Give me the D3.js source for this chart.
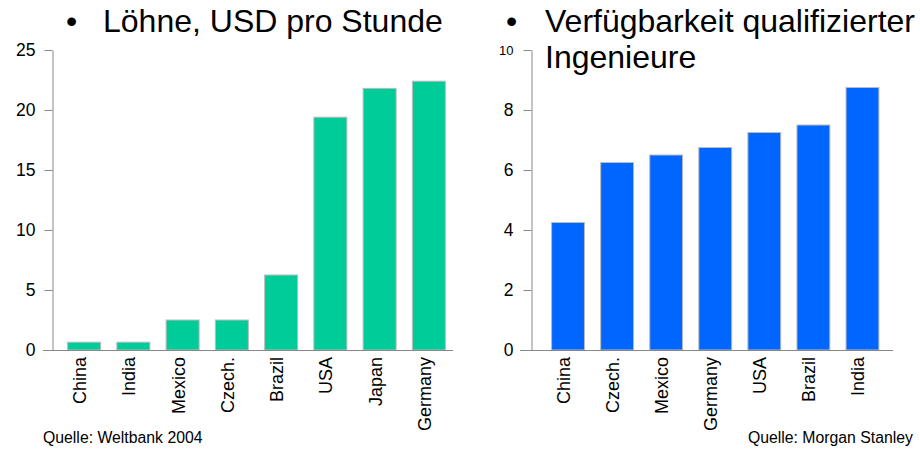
<!DOCTYPE html>
<html>
<head>
<meta charset="utf-8">
<script src="https://cdn.jsdelivr.net/npm/d3@7"></script>
<style>
  body { margin: 0; background: #fff; }
  text { font-family: Arial, "Liberation Sans", sans-serif; }
</style>
</head>
<body>
<div id="my_dataviz"></div>
<script>
// data
var lohnCountries = ["China", "India", "Mexico", "Czech.", "Brazil", "USA", "Japan", "Germany"];
var lohnValues = [0.65, 0.65, 2.5, 2.5, 6.25, 19.4, 21.8, 22.4];
var lohnTicks = [0, 5, 10, 15, 20, 25];

var ingCountries = ["China", "Czech.", "Mexico", "Germany", "USA", "Brazil", "India"];
var ingValues = [4.25, 6.25, 6.5, 6.75, 7.25, 7.5, 8.75];
var ingTicks = [0, 2, 4, 6, 8, 10];

var width = 920, height = 450;

var svg = d3.select("#my_dataviz")
  .append("svg")
  .attr("width", width)
  .attr("height", height);

// one bar chart panel
function drawChart(cfg) {
  var g = svg.append("g");

  var data = cfg.cats.map(function(c, i) { return {name: c, value: cfg.values[i]}; });

  var x = d3.scaleBand()
    .domain(cfg.cats)
    .range(cfg.xRange)
    .paddingInner(0.33)
    .paddingOuter(0.165);

  var y = d3.scaleLinear()
    .domain([0, d3.max(cfg.ticks)])
    .range([350, 50]);

  // y axis
  var yAxis = g.append("g")
    .attr("transform", "translate(" + cfg.axisX + ",0)")
    .call(d3.axisLeft(y).tickValues(cfg.ticks).tickSize(8).tickSizeOuter(0).tickPadding(cfg.tickPad));
  yAxis.select(".domain").attr("stroke", "#888");
  yAxis.selectAll(".tick line").attr("stroke", "#888");
  yAxis.selectAll(".tick text")
    .attr("fill", "#000")
    .style("font-size", function(d) { return (cfg.smallTop && d === d3.max(cfg.ticks)) ? "13px" : "17.5px"; });

  // bars
  g.selectAll("rect")
    .data(data)
    .enter()
    .append("rect")
    .attr("x", function(d) { return x(d.name); })
    .attr("y", function(d) { return y(d.value); })
    .attr("width", x.bandwidth())
    .attr("height", function(d) { return y(0) - y(d.value); })
    .attr("fill", cfg.color)
    .attr("stroke", "#bbb")
    .attr("stroke-width", 1);

  // baseline
  g.append("line")
    .attr("x1", cfg.baseX[0])
    .attr("x2", cfg.baseX[1])
    .attr("y1", y(0) + 0.5)
    .attr("y2", y(0) + 0.5)
    .attr("stroke", "#888");

  // category labels
  g.selectAll(".cat")
    .data(data)
    .enter()
    .append("text")
    .attr("class", "cat")
    .attr("transform", function(d) {
      return "translate(" + (x(d.name) + x.bandwidth() / 2 + 2) + "," + (y(0) + 7) + ") rotate(-90)";
    })
    .attr("text-anchor", "end")
    .style("font-size", "18px")
    .text(function(d) { return d.name; });

  // title with bullet
  g.append("text")
    .attr("x", cfg.bulletX)
    .attr("y", 32)
    .style("font-size", "32px")
    .text("\u2022");
  cfg.title.forEach(function(line, i) {
    g.append("text")
      .attr("x", cfg.titleX)
      .attr("y", 32 + i * 36)
      .style("font-size", "32px")
      .text(line);
  });

  // source
  g.append("text")
    .attr("x", cfg.srcX)
    .attr("y", 443)
    .attr("text-anchor", cfg.srcAnchor)
    .style("font-size", "15.8px")
    .text(cfg.source);
}

drawChart({
  cats: lohnCountries, values: lohnValues, ticks: lohnTicks,
  color: "#00CC99", xRange: [59.5, 453.5], axisX: 52.5, baseX: [43, 453],
  tickPad: 9, bulletX: 66, titleX: 103, title: ["Löhne, USD pro Stunde"],
  source: "Quelle: Weltbank 2004", srcX: 43, srcAnchor: "start"
});

drawChart({
  cats: ingCountries, values: ingValues, ticks: ingTicks,
  color: "#0066FF", xRange: [543.5, 887], axisX: 531.5, baseX: [520, 893],
  tickPad: 10, smallTop: true, bulletX: 506, titleX: 545,
  title: ["Verfügbarkeit qualifizierter", "Ingenieure"],
  source: "Quelle: Morgan Stanley", srcX: 913, srcAnchor: "end"
});
</script>
</body>
</html>
